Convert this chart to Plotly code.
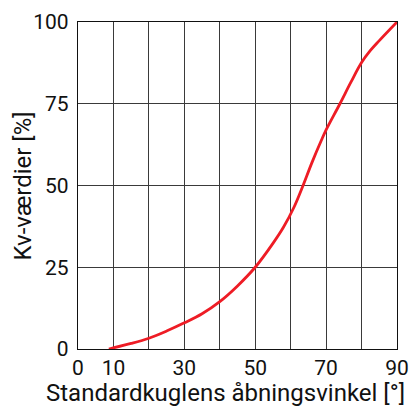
import plotly.graph_objects as go

angle = [8.7, 15, 20, 25, 30, 35, 40, 45, 50, 55, 58, 61, 63.5, 66, 68.7, 70, 73.9, 77, 80, 82.5, 85, 90]
kv = [0, 1.7, 3.3, 5.5, 8, 10.8, 14.5, 19.3, 25, 32.3, 37.3, 43.5, 50, 57, 63.9, 67, 75, 81.6, 87.6, 91.3, 94.3, 100]

x_tickvals = [0, 10, 20, 30, 40, 50, 60, 70, 80, 90]
x_ticktext = ["0", "10", "", "30", "", "50", "", "70", "", "90"]
y_tickvals = [0, 25, 50, 75, 100]
x_title = "Standardkuglens åbningsvinkel [°]"
y_title = "Kv-værdier [%]"

W, H = 411, 407
L, R, T, B = 78, 14, 22, 58
pw, ph = W - L - R, H - T - B

fig = go.Figure()
fig.add_trace(go.Scatter(
    x=angle, y=kv, mode="lines",
    line=dict(color="#ee1c25", width=2.8, shape="spline", smoothing=1.0),
    showlegend=False, hoverinfo="skip",
))

fam = "Roboto, Arial, sans-serif"
tickfont = dict(family=fam, size=21, color="#111111")
titlefont = dict(family=fam, size=24, color="#111111")

fig.update_layout(
    width=W, height=H,
    margin=dict(l=L, r=R, t=T, b=B),
    paper_bgcolor="white", plot_bgcolor="white",
    font=tickfont,
    xaxis=dict(
        range=[0, 90], tickvals=x_tickvals, ticktext=x_ticktext,
        showgrid=True, gridcolor="#3a3a3a", gridwidth=1,
        showline=True, linecolor="#111111", linewidth=1.3, mirror=True,
        ticks="", zeroline=False, automargin=False,
        tickfont=tickfont, ticklabelstandoff=0,
    ),
    yaxis=dict(
        range=[0, 100], tickvals=y_tickvals,
        showgrid=True, gridcolor="#3a3a3a", gridwidth=1,
        showline=True, linecolor="#111111", linewidth=1.3, mirror=True,
        ticks="", zeroline=False, automargin=False,
        tickfont=tickfont, ticklabelstandoff=4,
    ),
    annotations=[
        dict(text=x_title, xref="paper", yref="paper",
             x=(407 - L) / pw, y=(ph + T - 393) / ph,
             xanchor="right", yanchor="middle", showarrow=False, font=titlefont),
        dict(text=y_title, xref="paper", yref="paper",
             x=(22 - L) / pw, y=(ph + T - 186.5) / ph, textangle=-90,
             xanchor="center", yanchor="middle", showarrow=False, font=titlefont),
    ],
)

fig.write_html("out.html", config={"displayModeBar": False},
               post_script="document.body.style.margin='0';document.body.style.overflow='hidden';")
